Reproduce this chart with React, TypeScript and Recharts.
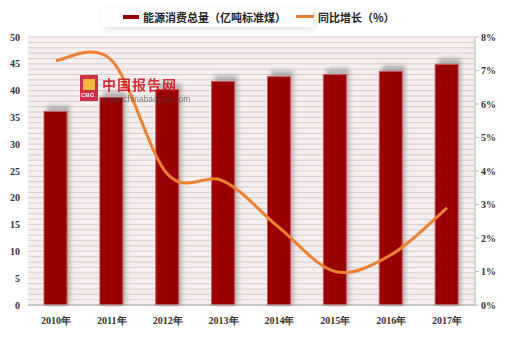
import { ComposedChart, Bar, Line, XAxis, YAxis, CartesianGrid } from 'recharts';

// 中国能源消费总量及增速 2010-2017
const years = ['2010年', '2011年', '2012年', '2013年', '2014年', '2015年', '2016年', '2017年'];
const consumption = [36.1, 38.7, 40.2, 41.7, 42.6, 43.0, 43.6, 44.9];
const growth = [7.3, 7.3, 3.9, 3.7, 2.3, 1.0, 1.5, 2.9];
const leftTicks = [0, 5, 10, 15, 20, 25, 30, 35, 40, 45, 50];
const rightTicks = [0, 1, 2, 3, 4, 5, 6, 7, 8];
const gridLines = Array.from({ length: 51 }, (_, i) => i);

const data = years.map((year, i) => ({ year, consumption: consumption[i], growth: growth[i] }));

const tickFont = { fontSize: 10, fill: '#333', fontWeight: 'bold', fontFamily: '"Liberation Serif", serif' };

// Excel-like smoothed line (Catmull-Rom as cubic bezier)
function excelSmooth(context: any) {
  let pts: number[][] = [];
  return {
    areaStart() {},
    areaEnd() {},
    lineStart() {
      pts = [];
    },
    point(x: number, y: number) {
      pts.push([+x, +y]);
    },
    lineEnd() {
      if (!pts.length) return;
      context.moveTo(pts[0][0], pts[0][1]);
      for (let i = 0; i < pts.length - 1; i++) {
        const p0 = pts[Math.max(i - 1, 0)];
        const p1 = pts[i];
        const p2 = pts[i + 1];
        const p3 = pts[Math.min(i + 2, pts.length - 1)];
        context.bezierCurveTo(
          p1[0] + (p2[0] - p0[0]) / 6,
          p1[1] + (p2[1] - p0[1]) / 6,
          p2[0] - (p3[0] - p1[0]) / 6,
          p2[1] - (p3[1] - p1[1]) / 6,
          p2[0],
          p2[1]
        );
      }
    },
  };
}

function ShadowBar(props: any) {
  const { x, y, width, height } = props;
  return (
    <g>
      <rect x={x + 3} y={y - 6} width={width} height={height + 6} fill="#8a8a8a" opacity={0.6} filter="url(#barShadow)" />
      <rect x={x} y={y} width={width} height={height} fill="#990000" stroke="#c65a5a" strokeWidth={1} />
    </g>
  );
}

function LegendBox() {
  return (
    <div style={{ position: 'absolute', left: 102, top: 7, width: 290, height: 20, fontFamily: '"Noto Sans CJK SC", sans-serif', fontSize: 11, fontWeight: 'bold', color: '#222' }}>
      <div style={{ position: 'absolute', left: 0, top: 0, width: 211, height: 20, background: '#fff', boxShadow: '2px 2px 6px rgba(0,0,0,0.12)' }} />
      <div style={{ position: 'absolute', left: 21, top: 8, width: 16, height: 4, background: '#990000' }} />
      <div style={{ position: 'absolute', left: 41, top: 2, whiteSpace: 'nowrap' }}>能源消费总量（亿吨标准煤）</div>
      <div style={{ position: 'absolute', left: 194, top: 8, width: 18, height: 3, background: '#ee8033' }} />
      <div style={{ position: 'absolute', left: 216, top: 2, whiteSpace: 'nowrap' }}>同比增长（%）</div>
    </div>
  );
}

export default function App() {
  return (
    <div style={{ position: 'absolute', left: 0, top: 0, width: 520, height: 337, background: '#fff' }}>
      <ComposedChart width={520} height={337} data={data} margin={{ top: 37, right: 0, bottom: 0, left: 0 }}>
        <defs>
          <filter id="barShadow" x="-50%" y="-50%" width="200%" height="200%">
            <feGaussianBlur stdDeviation="2" />
          </filter>
        </defs>
        <CartesianGrid
          yAxisId="left"
          vertical={false}
          horizontalValues={gridLines}
          stroke="#d6cccc"
          fill="#f7efef"
          fillOpacity={1}
        />
        <XAxis
          dataKey="year"
          height={32}
          axisLine={{ stroke: '#aaa' }}
          tickLine={false}
          tick={tickFont}
          dy={4}
        />
        <YAxis
          yAxisId="left"
          width={28}
          domain={[0, 50]}
          ticks={leftTicks}
          axisLine={false}
          tickLine={false}
          tick={tickFont}
          interval={0}
        />
        <YAxis
          yAxisId="right"
          orientation="right"
          width={45}
          domain={[0, 8]}
          ticks={rightTicks}
          tickFormatter={(v) => `${v}%`}
          axisLine={{ stroke: '#bbb' }}
          tickLine={{ stroke: '#bbb' }}
          tickSize={4}
          tick={tickFont}
          interval={0}
        />
        <Bar yAxisId="left" dataKey="consumption" barSize={23} shape={ShadowBar} isAnimationActive={false} />
        <Line
          yAxisId="right"
          type={excelSmooth as any}
          dataKey="growth"
          stroke="#ee8033"
          strokeWidth={3}
          dot={false}
          activeDot={false}
          isAnimationActive={false}
        />
      </ComposedChart>
      <LegendBox />
      {/* watermark */}
      <div style={{ position: 'absolute', left: 80, top: 75, width: 18, height: 26, background: '#c8102e', opacity: 0.85 }}>
        <div style={{ position: 'absolute', left: 3, top: 4, width: 12, height: 11, background: '#f2b01e' }} />
        <div style={{ position: 'absolute', left: 1, top: 17, fontFamily: 'Arial, sans-serif', fontSize: 6, fontWeight: 'bold', color: '#fff', lineHeight: '7px' }}>CBG</div>
      </div>
      <div style={{ position: 'absolute', left: 102, top: 77, fontFamily: '"Noto Sans CJK SC", sans-serif', fontSize: 14, lineHeight: '15px', fontWeight: 'bold', color: '#d0111b', opacity: 0.85, whiteSpace: 'nowrap', letterSpacing: 1 }}>中国报告网</div>
      <div style={{ position: 'absolute', left: 103, top: 95, fontFamily: 'Arial, "Liberation Sans", sans-serif', fontSize: 8.5, lineHeight: '9px', color: '#444', opacity: 0.7, whiteSpace: 'nowrap' }}>www.chinabaogao.com</div>
    </div>
  );
}
